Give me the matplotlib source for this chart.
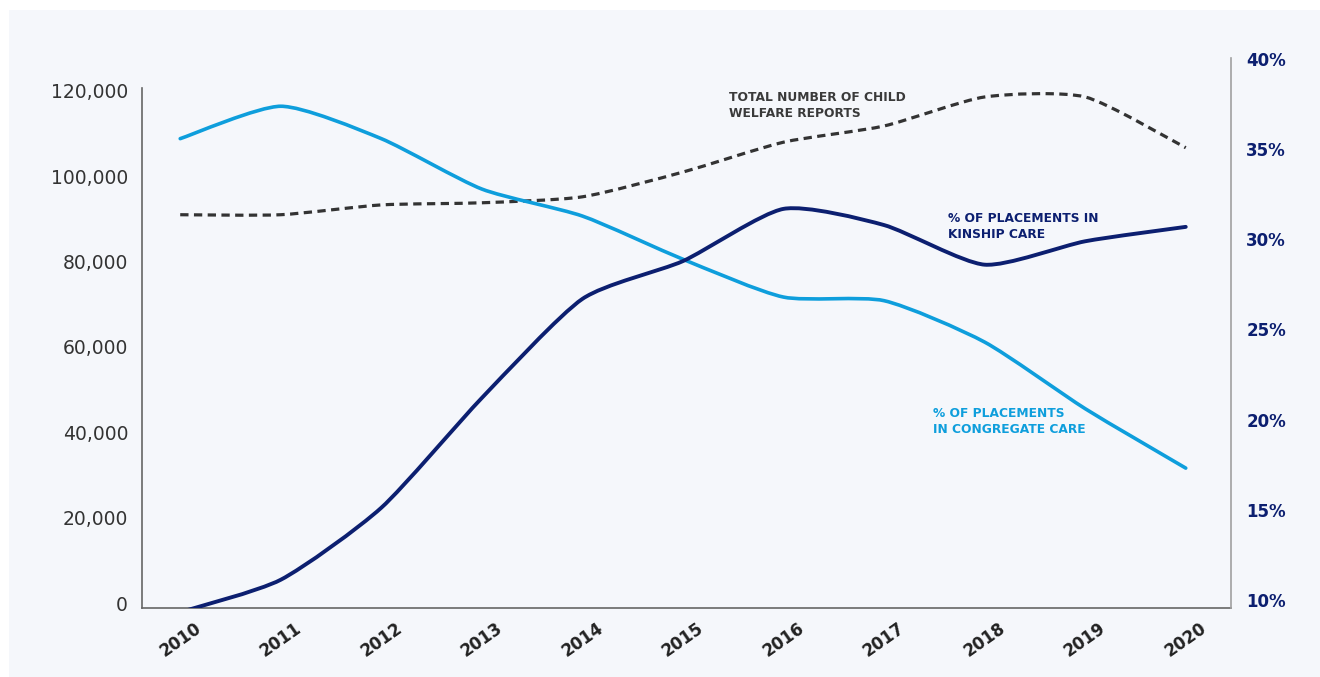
import matplotlib.pyplot as plt
import numpy as np
from matplotlib.patches import PathPatch, Rectangle
from matplotlib.path import Path

years = list(range(2010, 2021))
reports = [91000, 91000, 93300, 93800, 95200, 101000, 108000, 111800,
           118600, 118600, 106700]
kinship = [9.3, 11.1, 15.1, 21.2, 26.7, 28.8, 31.7, 30.8, 28.6, 29.9, 30.7]
congregate = [35.6, 37.4, 35.6, 32.8, 31.3, 28.9, 26.8, 26.6, 24.3, 20.6,
              17.3]
left_ticks = [0, 20000, 40000, 60000, 80000, 100000, 120000]
right_ticks = [10, 15, 20, 25, 30, 35, 40]

NAVY = '#0c1f70'
SKY = '#0e9edc'
GREY = '#333333'
PANEL = '#f5f7fb'


def smooth_path(x, y, k=0.11):
    """Cardinal spline through the points as cubic Bezier segments."""
    pts = np.column_stack([x, y]).astype(float)
    ext = np.vstack([pts[0], pts, pts[-1]])
    verts, codes = [pts[0]], [Path.MOVETO]
    for i in range(len(pts) - 1):
        p0, p1, p2, p3 = ext[i], ext[i + 1], ext[i + 2], ext[i + 3]
        verts += [p1 + (p2 - p0) * k, p2 - (p3 - p1) * k, p2]
        codes += [Path.CURVE4] * 3
    return Path(verts, codes)


def curve(ax, x, y, **kwargs):
    ax.add_patch(PathPatch(smooth_path(x, y), fill=False, **kwargs))


W, H = 1320, 677
fig = plt.figure(figsize=(W / 100, H / 100), dpi=100)
fig.patch.set_facecolor('white')
fig.patches.append(Rectangle((9 / W, 0), 1, (H - 10) / H, transform=fig.transFigure,
                             facecolor=PANEL, edgecolor='none', zorder=-10))

ax = fig.add_axes([142 / W, (H - 608) / H, (1231 - 142) / W, 550 / H])
ax.patch.set_visible(False)
ax2 = ax.twinx()
ax2.patch.set_visible(False)

ax.set_xlim(2009.62, 2020.45)
ax.set_ylim(-1170, 127730)
ax2.set_ylim(9.53, 40.08)

curve(ax, years, reports, edgecolor=GREY, lw=2.3, linestyle=(0, (2.6, 1.7)),
      capstyle='butt')
curve(ax2, years, congregate, edgecolor=SKY, lw=2.6, capstyle='round')
curve(ax2, years, kinship, edgecolor=NAVY, lw=2.8, capstyle='round')

for a in (ax, ax2):
    a.spines['top'].set_visible(False)
ax.spines['right'].set_visible(False)
ax2.spines['left'].set_visible(False)
ax2.spines['bottom'].set_visible(False)
ax.spines['left'].set_color('#666666')
ax.spines['left'].set_linewidth(1.2)
ax.spines['left'].set_bounds(-1170, 120700)
ax.spines['bottom'].set_color('#666666')
ax.spines['bottom'].set_linewidth(1.2)
ax2.spines['right'].set_color('#a0a0a0')
ax2.spines['right'].set_linewidth(1.2)

ax.set_yticks(left_ticks)
ax.set_yticklabels(['{:,}'.format(v) for v in left_ticks])
ax.tick_params(axis='y', length=0, pad=10, labelsize=13.5, labelcolor=GREY)
ax2.set_yticks(right_ticks)
ax2.set_yticklabels(['{}%'.format(v) for v in right_ticks])
ax2.tick_params(axis='y', length=0, pad=11, labelsize=12, labelcolor=NAVY)
for lab in ax2.get_yticklabels():
    lab.set_fontweight('bold')

ax.set_xticks(years)
ax.set_xticklabels([str(y) for y in years], rotation=35, ha='center',
                   fontweight='bold', color='#222222', fontsize=12)
ax.tick_params(axis='x', length=0, pad=8)

lab_kw = dict(fontsize=8.8, fontweight='bold', va='top', ha='left',
              linespacing=1.35)
ax2.text(2015.46, 38.25, 'TOTAL NUMBER OF CHILD\nWELFARE REPORTS',
         color='#3a3a3a', **lab_kw)
ax2.text(2017.64, 31.55, '% OF PLACEMENTS IN\nKINSHIP CARE',
         color=NAVY, **lab_kw)
ax2.text(2017.49, 20.7, '% OF PLACEMENTS\nIN CONGREGATE CARE',
         color=SKY, **lab_kw)

fig.savefig('out.png', dpi=100, facecolor=fig.get_facecolor())
